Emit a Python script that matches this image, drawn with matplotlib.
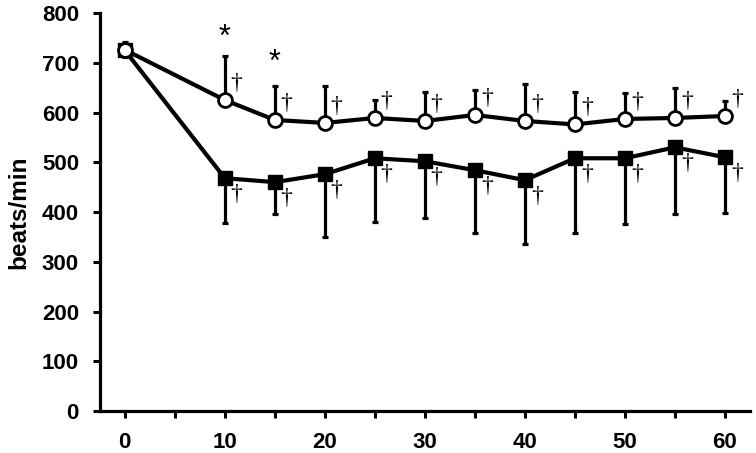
import matplotlib.pyplot as plt

# time points (min)
times = [0, 10, 15, 20, 25, 30, 35, 40, 45, 50, 55, 60]

# open circles
open_mean = [726, 625, 585, 579, 589, 583, 595, 583, 576, 587, 589, 593]
open_upper = [741, 714, 653, 653, 625, 641, 645, 657, 641, 639, 649, 623]
open_lower = [711, 625, 585, 579, 589, 583, 595, 583, 576, 587, 589, 593]

# filled squares
fill_mean = [725, 468, 460, 476, 508, 502, 484, 464, 508, 508, 530, 510]
fill_lower = [725, 378, 396, 350, 380, 388, 358, 336, 358, 376, 396, 398]

# significance marks
star_x = [10, 15]
star_y = [750, 699]

plt.rcParams['font.family'] = ['Liberation Sans', 'DejaVu Sans']
plt.rcParams['font.weight'] = 'bold'

fig = plt.figure(figsize=(7.56, 4.53), dpi=100)
ax = fig.add_axes([0.132, 0.0927, 0.86, 0.8786])

# filled series (lower error only)
f_err = [[m - l for m, l in zip(fill_mean, fill_lower)], [0] * len(fill_mean)]
ax.errorbar(times, fill_mean, yerr=f_err, fmt='none', ecolor='black',
            elinewidth=2.3, capsize=2.5, capthick=2.3, zorder=2)
ax.plot(times, fill_mean, color='black', lw=3, marker='s', ms=9.5,
        mfc='black', mec='black', zorder=3)

# open series (upper error only, except baseline)
o_err = [[m - l for m, l in zip(open_mean, open_lower)],
         [u - m for u, m in zip(open_upper, open_mean)]]
ax.errorbar(times, open_mean, yerr=o_err, fmt='none', ecolor='black',
            elinewidth=2.3, capsize=2.5, capthick=2.3, zorder=4)
ax.plot(times, open_mean, color='black', lw=3, marker='o', ms=10,
        mfc='white', mec='black', mew=2, zorder=5)

# daggers next to each post-baseline point
for x, m in zip(times[1:], open_mean[1:]):
    ax.annotate('\u2020', (x, m), xytext=(8.5, 12), textcoords='offset points',
                ha='center', va='center', fontsize=17, fontweight='normal',
                family='Liberation Serif', zorder=6)
for x, m in zip(times[1:], fill_mean[1:]):
    ax.annotate('\u2020', (x, m), xytext=(8.5, -12), textcoords='offset points',
                ha='center', va='center', fontsize=17, fontweight='normal',
                family='Liberation Serif', zorder=6)

for x, y in zip(star_x, star_y):
    ax.text(x, y, '*', ha='center', va='center', fontsize=22, fontweight='normal')

ax.set_xlim(-2.5, 62.5)
ax.set_ylim(0, 800)
ax.set_xticks(range(0, 61, 10))
ax.set_xticks(range(0, 61, 5), minor=True)
ax.set_yticks(range(0, 801, 100))
ax.set_ylabel('beats/min', fontsize=17.5, fontweight='bold', labelpad=8)

for s in ['top', 'right']:
    ax.spines[s].set_visible(False)
for s in ['left', 'bottom']:
    ax.spines[s].set_linewidth(2.3)

ax.tick_params(axis='both', which='both', direction='out', width=2.2,
               labelsize=16, pad=10)
ax.tick_params(axis='both', which='major', length=5)
ax.tick_params(axis='x', which='minor', length=5)
for lab in ax.get_xticklabels() + ax.get_yticklabels():
    lab.set_fontweight('bold')

fig.savefig('out.png', dpi=100)
